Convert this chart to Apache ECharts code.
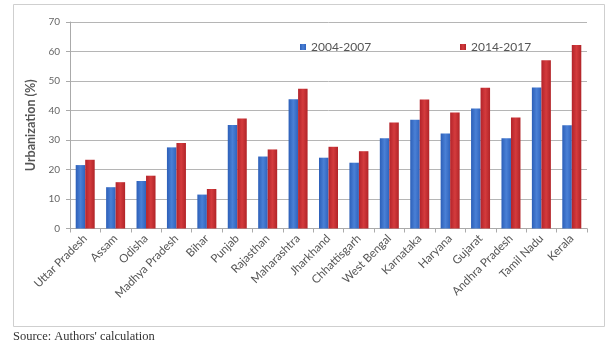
<!DOCTYPE html>
<html>
<head>
<meta charset="utf-8">
<script src="https://cdn.jsdelivr.net/npm/echarts@6/dist/echarts.min.js"></script>
<style>
html,body{margin:0;padding:0;background:#fff;}
#chart{width:612px;height:347px;}
</style>
</head>
<body>
<div id="chart"></div>
<script>
var categories = ["Uttar Pradesh","Assam","Odisha","Madhya Pradesh","Bihar","Punjab","Rajasthan","Maharashtra","Jharkhand","Chhattisgarh","West Bengal","Karnataka","Haryana","Gujarat","Andhra Pradesh","Tamil Nadu","Kerala"];
var series2004 = [21.5, 14.0, 16.1, 27.5, 11.5, 35.1, 24.4, 43.8, 24.0, 22.3, 30.6, 36.9, 32.2, 40.7, 30.6, 47.8, 35.0];
var series2014 = [23.3, 15.7, 17.9, 29.0, 13.4, 37.3, 26.8, 47.4, 27.7, 26.2, 35.9, 43.7, 39.3, 47.7, 37.6, 57.0, 62.2];
var yTicks = [0,10,20,30,40,50,60,70];
var seriesNames = ["2004-2007","2014-2017"];

var chart = echarts.init(document.getElementById('chart'), null, {renderer:'canvas'});
var font = 'Lato, "Open Sans", sans-serif';
chart.setOption({
  animation:false,
  backgroundColor:'#fff',
  graphic:[
    {type:'rect', shape:{x:13.5,y:4.5,width:591,height:322}, style:{fill:'none', stroke:'#cfcfcf', lineWidth:1}, z:-1},
    {type:'text', left:13, top:330, style:{text:"Source: Authors' calculation", font:'12.5px "Liberation Serif", "DejaVu Serif", serif', fill:'#333'}}
  ],
  legend:[
    {data:[seriesNames[0]], left:295, top:36, itemWidth:6, itemHeight:6, itemGap:4, icon:'rect', textStyle:{fontSize:12, color:'#555', fontFamily:font}},
    {data:[seriesNames[1]], left:455, top:36, itemWidth:6, itemHeight:6, itemGap:4, icon:'rect', textStyle:{fontSize:12, color:'#555', fontFamily:font}}
  ],
  grid:{left:70, right:25, top:22, bottom:118.5, containLabel:false},
  xAxis:{
    type:'category', data:categories, boundaryGap:true,
    axisLine:{lineStyle:{color:'#aaa'}},
    axisTick:{show:true, length:4, lineStyle:{color:'#aaa'}, alignWithLabel:false},
    axisLabel:{rotate:45, fontSize:11.5, color:'#555', fontFamily:font, margin:8, interval:0}
  },
  yAxis:{
    type:'value', min:0, max:70, interval:10,
    name:'Urbanization (%)', nameLocation:'middle', nameGap:30,
    nameTextStyle:{fontSize:12.5, fontWeight:'bold', color:'#555', fontFamily:font},
    axisLine:{show:true, lineStyle:{color:'#aaa'}},
    axisTick:{show:true, length:4, lineStyle:{color:'#aaa'}},
    axisLabel:{fontSize:10, color:'#666', fontFamily:font, margin:10},
    splitLine:{lineStyle:{color:'#b5b5b5'}}
  },
  series:[
    {name:seriesNames[0], type:'bar', data:series2004, barWidth:9.5, barGap:'0%',
     itemStyle:{color:new echarts.graphic.LinearGradient(0,0,1,0,[{offset:0,color:'#2c5fb8'},{offset:0.5,color:'#4a80d6'},{offset:1,color:'#2f63bd'}])}},
    {name:seriesNames[1], type:'bar', data:series2014, barWidth:9.5, barGap:'0%',
     itemStyle:{color:new echarts.graphic.LinearGradient(0,0,1,0,[{offset:0,color:'#b3232a'},{offset:0.5,color:'#d43b3d'},{offset:1,color:'#b12428'}])}}
  ]
});
</script>
</body>
</html>
